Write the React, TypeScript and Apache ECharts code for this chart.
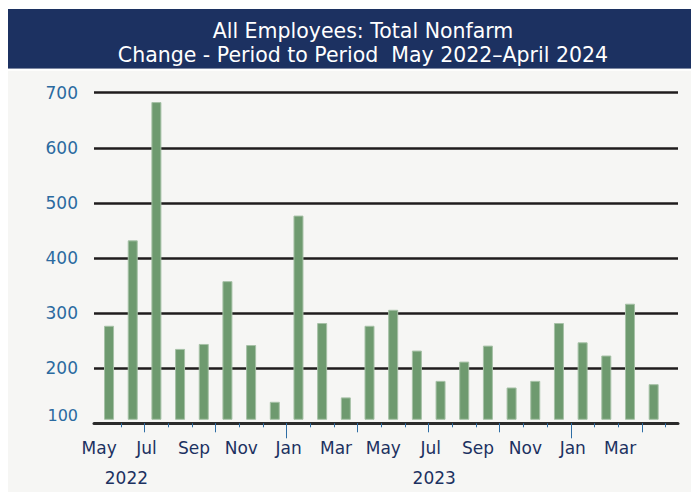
import { useEffect, useRef } from "react";
import * as echarts from "echarts";

// ---- data ----
const categories = [
  "May 2022", "Jun 2022", "Jul 2022", "Aug 2022", "Sep 2022", "Oct 2022", "Nov 2022", "Dec 2022",
  "Jan 2023", "Feb 2023", "Mar 2023", "Apr 2023", "May 2023", "Jun 2023", "Jul 2023", "Aug 2023",
  "Sep 2023", "Oct 2023", "Nov 2023", "Dec 2023", "Jan 2024", "Feb 2024", "Mar 2024", "Apr 2024",
];
const values = [
  277, 432, 683, 235, 244, 358, 242, 139,
  477, 282, 147, 277, 306, 232, 177, 212,
  241, 165, 177, 282, 247, 223, 317, 171,
];
// month boundaries (start of each month, plus the end of the last one)
const boundaryMonths = [
  "May", "Jun", "Jul", "Aug", "Sep", "Oct", "Nov", "Dec",
  "Jan", "Feb", "Mar", "Apr", "May", "Jun", "Jul", "Aug",
  "Sep", "Oct", "Nov", "Dec", "Jan", "Feb", "Mar", "Apr", "May",
];
const yearLabels = ["", "2022", "", "", "", "", "", "", "", "", "", "", "", "", "2023", "", "", "", "", "", "", "", "", "", ""];
const yMin = 100;
const yMax = 700;
const yInterval = 100;
const titleLines = ["All Employees: Total Nonfarm", "Change - Period to Period  May 2022\u2013April 2024"];

const FONT = "DejaVu Sans";
const NAVY = "#1c3161";
const TICK_BLUE = "#2e6da4";

export default function App() {
  const ref = useRef<HTMLDivElement>(null);

  useEffect(() => {
    if (!ref.current) return;
    const chart = echarts.init(ref.current, null, { renderer: "svg" });

    const gridTop = 83.7;
    const gridH = 330.6;
    const barGap = 4; // bars start slightly above the axis line
    const barYMin = yMin + (barGap * (yMax - yMin)) / gridH;

    const monthOf = (i: number) => (4 + i) % 12; // 0 = Jan

    const tickAxisBase = {
      type: "category" as const,
      gridIndex: 1,
      data: boundaryMonths,
      boundaryGap: false,
      position: "bottom" as const,
      offset: barGap,
      axisLine: { show: false },
      splitLine: { show: false },
    };

    chart.setOption({
      animation: false,
      backgroundColor: "#f6f6f4",
      title: {
        text: titleLines.join("\n"),
        left: 350,
        top: 5,
        textAlign: "center",
        textStyle: {
          color: "#ffffff",
          fontFamily: FONT,
          fontSize: 20.5,
          fontWeight: "normal",
          lineHeight: 24,
        },
      },
      graphic: [
        {
          type: "rect",
          z: -10,
          shape: { x: 0, y: 0, width: 683, height: 59.7 },
          style: { fill: NAVY },
        },
        {
          type: "rect",
          z: -10,
          shape: { x: 0, y: 59.7, width: 683, height: 2 },
          style: { fill: "#ffffff" },
        },
      ],
      grid: [
        { left: 86, top: gridTop, width: 584, height: gridH },
        { left: 89.2, top: gridTop, width: 568.3, height: gridH - barGap },
      ],
      xAxis: [
        {
          type: "value",
          gridIndex: 0,
          min: 0,
          max: 1,
          axisLine: { show: true, onZero: false, lineStyle: { color: "#2a2a2a", width: 3 } },
          axisTick: { show: false },
          axisLabel: { show: false },
          splitLine: { show: false },
        },
        {
          type: "category",
          gridIndex: 1,
          data: categories,
          boundaryGap: true,
          show: false,
        },
        {
          ...tickAxisBase,
          axisTick: {
            show: true,
            length: 4,
            interval: (i: number) => i > 0,
            lineStyle: { color: TICK_BLUE, width: 1 },
          },
          axisLabel: {
            show: true,
            interval: (i: number) => i % 2 === 0 && i < boundaryMonths.length - 1,
            margin: 16,
            color: NAVY,
            fontFamily: FONT,
            fontSize: 17,
            padding: [0, 0, 0, 4],
          },
        },
        {
          ...tickAxisBase,
          axisTick: {
            show: true,
            length: 9,
            interval: (i: number) => i > 0 && monthOf(i) % 3 === 0,
            lineStyle: { color: TICK_BLUE, width: 1 },
          },
          axisLabel: { show: false },
        },
        {
          ...tickAxisBase,
          axisTick: {
            show: true,
            length: 15,
            interval: (i: number) => i > 0 && monthOf(i) === 0,
            lineStyle: { color: TICK_BLUE, width: 1 },
          },
          axisLabel: { show: false },
        },
        {
          ...tickAxisBase,
          data: yearLabels,
          axisTick: { show: false },
          axisLabel: {
            show: true,
            interval: 0,
            margin: 46,
            color: NAVY,
            fontFamily: FONT,
            fontSize: 17,
            padding: [0, 0, 0, 11],
          },
        },
      ],
      yAxis: [
        {
          type: "value",
          gridIndex: 0,
          min: yMin,
          max: yMax,
          interval: yInterval,
          axisLine: { show: false },
          axisTick: { show: false },
          splitLine: { show: true, lineStyle: { color: "#1f1c1d", width: 2.5 } },
          axisLabel: {
            margin: 16,
            formatter: (v: number) => (v === yMin ? `{low|${v}}` : `{n|${v}}`),
            rich: {
              n: { color: "#2b6aa0", fontFamily: FONT, fontSize: 17 },
              low: { color: "#2b6aa0", fontFamily: FONT, fontSize: 16, padding: [0, 0, 16, 0] },
            },
          },
        },
        {
          type: "value",
          gridIndex: 1,
          min: barYMin,
          max: yMax,
          show: false,
          splitLine: { show: false },
        },
      ],
      series: [
        {
          type: "bar",
          xAxisIndex: 1,
          yAxisIndex: 1,
          data: values,
          barWidth: 10,
          itemStyle: { color: "#6e9a6f", borderColor: "#a6c1a6", borderWidth: 1 },
        },
      ],
    });

    return () => chart.dispose();
  }, []);

  return (
    <div
      ref={ref}
      style={{ position: "absolute", left: 8, top: 9, width: 683, height: 483 }}
    />
  );
}
